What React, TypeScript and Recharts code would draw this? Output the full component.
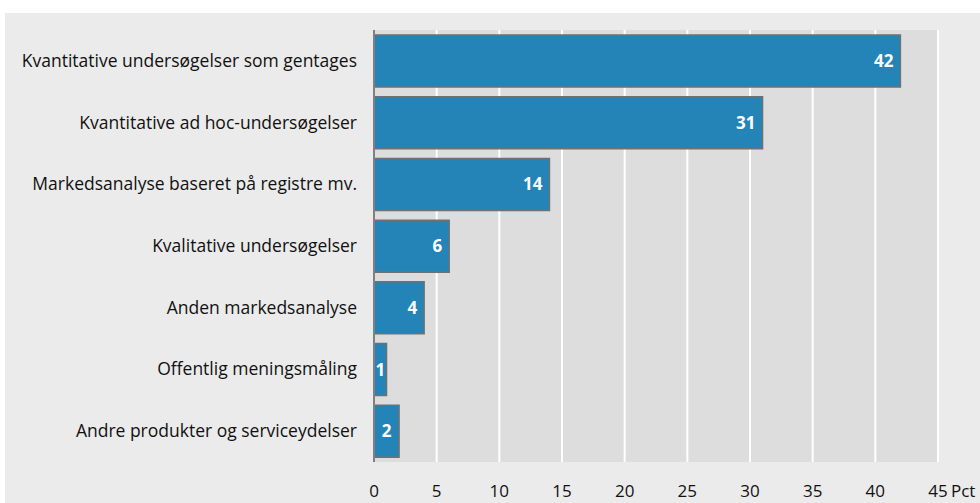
import React from "react";
import { BarChart, Bar, XAxis, YAxis, CartesianGrid, LabelList } from "recharts";

const categories = [
  "Kvantitative undersøgelser som gentages",
  "Kvantitative ad hoc-undersøgelser",
  "Markedsanalyse baseret på registre mv.",
  "Kvalitative undersøgelser",
  "Anden markedsanalyse",
  "Offentlig meningsmåling",
  "Andre produkter og serviceydelser",
];
const values = [42, 31, 14, 6, 4, 1, 2];
const xTicks = [0, 5, 10, 15, 20, 25, 30, 35, 40, 45];
const unitLabel = "Pct";

const data = categories.map((c, i) => ({ name: c, value: values[i] }));

const FONT = "'Open Sans', sans-serif";

const XTick = (props: any) => {
  const { x, y, payload } = props;
  return (
    <g>
      <text x={x} y={y + 27} textAnchor="middle" fontFamily={FONT} fontSize={17} fill="#111">
        {payload.value}
      </text>
      {payload.value === 45 ? (
        <text x={x + 13} y={y + 27} textAnchor="start" fontFamily={FONT} fontSize={17} fill="#111">
          {unitLabel}
        </text>
      ) : null}
    </g>
  );
};

const YTick = (props: any) => {
  const { x, y, payload } = props;
  return (
    <text x={x + 6} y={y + 6} textAnchor="end" fontFamily={FONT} fontSize={17.5} fill="#111">
      {payload.value}
    </text>
  );
};

const ValueLabel = (props: any) => {
  const { x, y, width, height, value } = props;
  const small = width < 30;
  return (
    <text
      x={small ? x + width / 2 : x + width - 7}
      y={y + height / 2 + 6}
      textAnchor={small ? "middle" : "end"}
      fontFamily={FONT}
      fontWeight="bold"
      fontSize={17}
      fill="#ffffff"
    >
      {value}
    </text>
  );
};

export default function App() {
  return (
    <div style={{ position: "absolute", left: 5, top: 13, width: 975, height: 490, background: "#ebebeb" }}>
      <BarChart
        width={975}
        height={490}
        data={data}
        layout="vertical"
        margin={{ top: 17, right: 42, bottom: 0, left: 0 }}
        barSize={52}
      >
        <CartesianGrid horizontal={false} vertical={true} fill="#dddddd" stroke="#ffffff" strokeWidth={2} />
        <XAxis
          type="number"
          domain={[0, 45]}
          ticks={xTicks}
          axisLine={false}
          tickLine={false}
          height={41}
          tick={<XTick />}
          interval={0}
        />
        <YAxis
          type="category"
          dataKey="name"
          width={369}
          axisLine={{ stroke: "#808080", strokeWidth: 2 }}
          tickLine={false}
          tick={<YTick />}
          tickMargin={17}
          interval={0}
        />
        <Bar dataKey="value" fill="#2484b8" stroke="#707070" strokeWidth={1.5} isAnimationActive={false}>
          <LabelList dataKey="value" content={<ValueLabel />} />
        </Bar>
      </BarChart>
    </div>
  );
}
